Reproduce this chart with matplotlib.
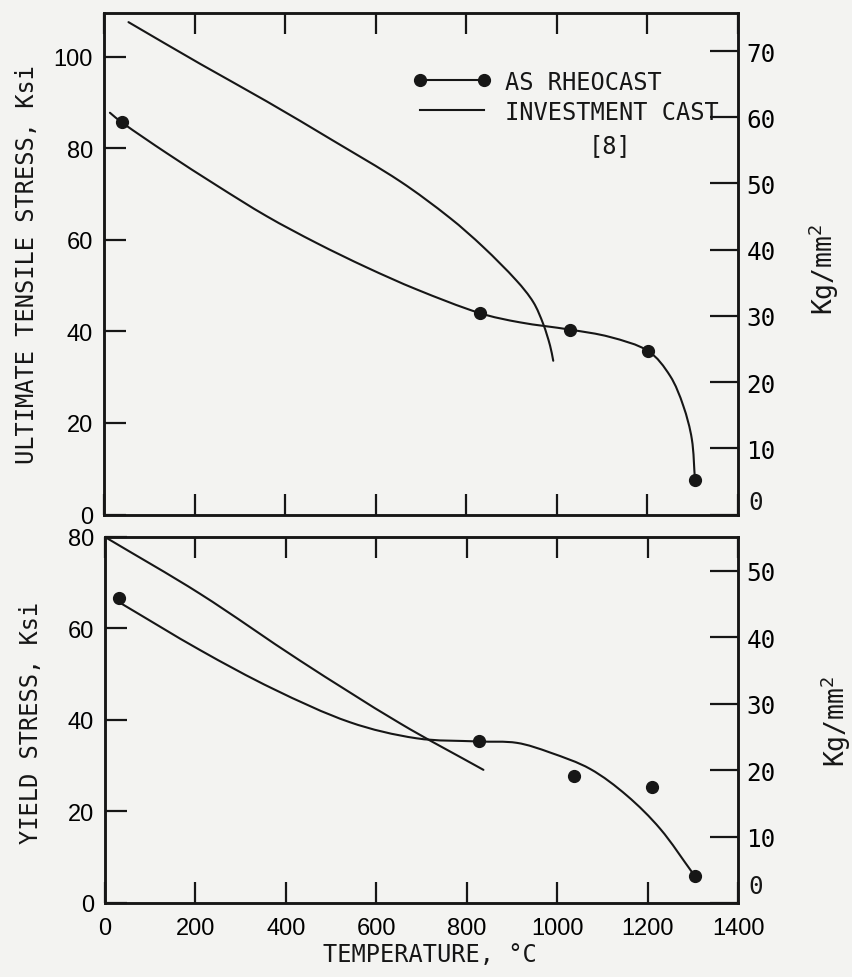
import numpy as np
import matplotlib
matplotlib.use('Agg')
import matplotlib.pyplot as plt
from matplotlib.path import Path
from matplotlib.patches import PathPatch
from matplotlib.lines import Line2D
from matplotlib.ticker import FuncFormatter
from matplotlib.transforms import ScaledTranslation

plt.rcParams['mathtext.fontset'] = 'custom'
plt.rcParams['mathtext.rm'] = 'DejaVu Sans Mono'

INK = '#161616'
PAPER = '#f3f3f1'
MONO = 'DejaVu Sans Mono'
SANS = 'Liberation Sans'

# --- ultimate tensile stress (Ksi) vs temperature (C) ---
uts_rheo_T = [39, 830, 1029, 1202, 1305]
uts_rheo_ksi = [85.7, 44.0, 40.4, 35.7, 7.5]
# faired curve through the rheocast data
uts_rheo_curve_T = [13, 39, 138, 249, 359, 470, 580, 690, 830, 918, 1029, 1117, 1202, 1250, 1279, 1298, 1305]
uts_rheo_curve_ksi = [87.8, 85.7, 79.0, 71.9, 65.2, 59.3, 54.0, 49.2, 44.0, 42.0, 40.4, 38.8, 35.7, 30.3, 23.8, 16.5, 7.5]
# investment cast, ref [8]
uts_inv_T = [54, 212, 359, 506, 654, 764, 838, 911, 948, 970, 985, 992]
uts_inv_ksi = [107.6, 98.5, 90.3, 81.7, 72.8, 64.8, 58.4, 51.1, 46.4, 41.6, 36.9, 33.6]

# --- yield stress (Ksi) vs temperature (C) ---
ys_rheo_T = [32, 827, 1037, 1209, 1306]
ys_rheo_ksi = [66.6, 35.3, 27.8, 25.3, 5.8]
ys_rheo_curve_T = [37, 210, 372, 542, 689, 827, 911, 984, 1073, 1154, 1228, 1300]
ys_rheo_curve_ksi = [65.4, 55.3, 46.8, 39.5, 36.0, 35.3, 35.0, 32.9, 29.3, 23.5, 16.2, 6.5]
ys_inv_T = [0, 210, 431, 652, 837]
ys_inv_ksi = [80.0, 67.6, 53.0, 39.3, 29.1]

temp_ticks = [0, 200, 400, 600, 800, 1000, 1200, 1400]
uts_ticks = [0, 20, 40, 60, 80, 100]
ys_ticks = [0, 20, 40, 60, 80]
uts_kg_ticks = [0, 10, 20, 30, 40, 50, 60, 70]
ys_kg_ticks = [0, 10, 20, 30, 40, 50]


def smooth_path(ax, x, y):
    """Bezier path through the given points (chord-length tangents in screen space)."""
    p = np.column_stack([x, y]).astype(float)
    disp = ax.transData.transform(p)
    d = np.hypot(*np.diff(disp, axis=0).T)
    n = len(p)
    tang = np.zeros_like(p)
    for i in range(n):
        if i == 0:
            tang[i] = (p[1] - p[0]) / d[0]
        elif i == n - 1:
            tang[i] = (p[-1] - p[-2]) / d[-1]
        else:
            tang[i] = (p[i + 1] - p[i - 1]) / (d[i - 1] + d[i])
    verts = [p[0]]
    codes = [Path.MOVETO]
    for i in range(n - 1):
        verts += [p[i] + tang[i] * d[i] / 3, p[i + 1] - tang[i + 1] * d[i] / 3, p[i + 1]]
        codes += [Path.CURVE4] * 3
    return Path(verts, codes)


def draw_curve(ax, x, y):
    ax.add_patch(PathPatch(smooth_path(ax, x, y), fill=False, ec=INK, lw=1.5,
                           capstyle='round', joinstyle='round'))


def hide_zero(v, pos):
    return '' if v == 0 else f'{v:g}'


def style_axes(ax, axr, ymax, kgmax, yticks, kgticks, show_x, zero_lift):
    ax.set_xlim(0, 1400)
    ax.set_ylim(0, ymax)
    axr.set_ylim(0, kgmax)
    ax.set_facecolor(PAPER)
    for a in (ax, axr):
        for s in a.spines.values():
            s.set_linewidth(1.8)
            s.set_color(INK)
    ax.set_xticks(temp_ticks)
    ax.set_yticks(yticks)
    axr.set_yticks(kgticks)
    axr.yaxis.set_major_formatter(FuncFormatter(hide_zero))
    ax.tick_params(axis='x', direction='in', length=15, width=1.6, color=INK,
                   top=True, bottom=True, labelbottom=show_x, labelsize=17, pad=10)
    ax.tick_params(axis='y', direction='in', length=16, width=1.6, color=INK,
                   labelsize=17, pad=8)
    axr.tick_params(axis='y', direction='in', length=20, width=1.6, color=INK,
                    labelsize=17.5, pad=6)
    for lab in ax.get_xticklabels() + ax.get_yticklabels():
        lab.set_fontfamily(SANS)
    for lab in axr.get_yticklabels():
        lab.set_fontfamily(MONO)
    # the right-hand zero sits a little above the baseline
    lift = ScaledTranslation(0.10, zero_lift / 100, fig.dpi_scale_trans)
    axr.text(1.0, 0.0, '0', transform=axr.transAxes + lift, ha='left', va='center',
             family=MONO, size=17.5, color=INK)


fig = plt.figure(figsize=(8.52, 9.78), dpi=100)
fig.patch.set_facecolor(PAPER)

ax1 = fig.add_axes([0.1221, 0.4729, 0.7441, 0.5128])
ax1r = ax1.twinx()
ax2 = fig.add_axes([0.1232, 0.0757, 0.7430, 0.3742])
ax2r = ax2.twinx()

style_axes(ax1, ax1r, 109.6, 75.75, uts_ticks, uts_kg_ticks, False, 13)
style_axes(ax2, ax2r, 80, 55.1, ys_ticks, ys_kg_ticks, True, 17)

# top panel: ultimate tensile stress
draw_curve(ax1, uts_rheo_curve_T, uts_rheo_curve_ksi)
draw_curve(ax1, uts_inv_T, uts_inv_ksi)
ax1.plot(uts_rheo_T, uts_rheo_ksi, 'o', color=INK, ms=8.5, zorder=5)

# bottom panel: yield stress
draw_curve(ax2, ys_rheo_curve_T, ys_rheo_curve_ksi)
draw_curve(ax2, ys_inv_T, ys_inv_ksi)
ax2.plot(ys_rheo_T, ys_rheo_ksi, 'o', color=INK, ms=8.5, zorder=5)

label_font = dict(family=MONO, size=17, color=INK)
ax1.set_ylabel('ULTIMATE TENSILE STRESS, Ksi', **label_font)
ax1.yaxis.label.set_verticalalignment('center')
ax1.yaxis.set_label_coords(-0.121, 0.5)
ax2.set_ylabel('YIELD STRESS, Ksi', **label_font)
ax2.yaxis.label.set_verticalalignment('center')
ax2.yaxis.set_label_coords(-0.117, 0.495)
ax2.set_xlabel('TEMPERATURE, °C', **label_font)
ax2.xaxis.label.set_verticalalignment('center')
ax2.xaxis.set_label_coords(0.513, -0.14)

kg_font = dict(family=MONO, size=19, color=INK, rotation=90)
ax1r.set_ylabel(r'Kg/mm$^\mathrm{2}$', **kg_font)
ax1r.yaxis.label.set_verticalalignment('center')
ax1r.yaxis.set_label_coords(1.135, 0.49)
ax2r.set_ylabel(r'Kg/mm$^\mathrm{2}$', **kg_font)
ax2r.yaxis.label.set_verticalalignment('center')
ax2r.yaxis.set_label_coords(1.155, 0.5)

handles = [Line2D([], [], color=INK, lw=1.5, marker='o', ms=8.5),
           Line2D([], [], color=INK, lw=1.5)]
leg = ax1.legend(handles, ['AS RHEOCAST', 'INVESTMENT CAST'], loc='upper left',
                 bbox_to_anchor=(0.488, 0.887), frameon=False, numpoints=2,
                 handlelength=3.3, handletextpad=0.6, borderpad=0, borderaxespad=0,
                 labelspacing=0.25, markerscale=1.0,
                 prop=dict(family=MONO, size=17))
for t in leg.get_texts():
    t.set_color(INK)
ax1.text(0.798, 0.737, '[8]', transform=ax1.transAxes, ha='center', va='center',
         family=MONO, size=17, color=INK)

fig.savefig('out.png', dpi=100, facecolor=PAPER)
